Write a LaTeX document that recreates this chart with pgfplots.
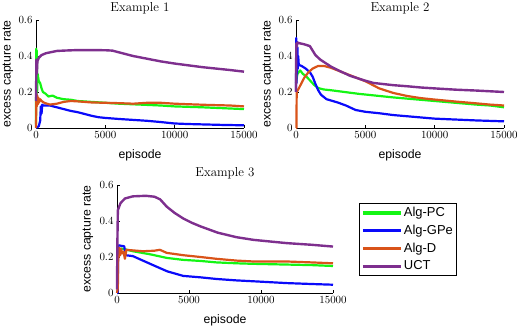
\documentclass[border=0pt]{standalone}
\usepackage{fontspec}
\usepackage{pgfplots}
\pgfplotsset{compat=1.18}
\newfontfamily\arialf{Liberation Sans}
\definecolor{cpc}{RGB}{20,245,20}
\definecolor{cgpe}{RGB}{10,10,250}
\definecolor{cd}{RGB}{217,83,25}
\definecolor{cuct}{RGB}{126,47,142}

\pgfplotsset{
  excap/.style={
    anchor=south west, scale only axis,
    width=208bp, height=108bp,
    xmin=0, xmax=15000, ymin=0, ymax=0.6,
    axis x line=bottom, axis y line=left,
    axis line style={-, black, line width=0.6bp},
    tick align=inside, major tick length=2.5bp,
    tick style={black, line width=0.5bp},
    xtick={0,5000,10000,15000}, ytick={0,0.2,0.4,0.6},
    scaled x ticks=false,
    /pgf/number format/1000 sep={},
    tick label style={font=\fontsize{10.5}{12}\selectfont},
    xlabel={episode}, ylabel={excess capture rate},
    label style={font=\arialf\fontsize{12.3}{14}\selectfont},
    xlabel style={at={(axis description cs:0.5,-0.25)}, anchor=center},
    ylabel style={at={(axis description cs:-0.135,0.5)}, anchor=center, rotate=0},
    every axis title shift=0pt,
    title style={font=\fontsize{13}{15}\selectfont, at={(axis description cs:0.5,1.11)}, anchor=center},
    clip=false,
  },
  pc/.style={color=cpc, line width=2.2bp, line join=round},
  gpe/.style={color=cgpe, line width=2.2bp, line join=round},
  algd/.style={color=cd, line width=2.2bp, line join=round},
  uct/.style={color=cuct, line width=2.4bp, line join=round},
}

\begin{document}
\begin{tikzpicture}
\useasboundingbox (0,0) rectangle (530bp,330bp);

% Example 1
\begin{axis}[excap, at={(36bp,202bp)}, title={Example 1}]
\addplot[pc] coordinates {(0,0.02) (20,0.44) (40,0.15) (60,0.43) (80,0.2) (120,0.3) (200,0.26) (300,0.25) (400,0.22) (500,0.2) (700,0.19) (900,0.175) (1200,0.18) (1500,0.168) (2000,0.16) (2500,0.157) (3000,0.15) (4000,0.145) (5000,0.14) (6000,0.135) (7500,0.13) (9000,0.125) (10000,0.12) (12000,0.115) (13500,0.11) (15000,0.105)};
\addplot[gpe] coordinates {(0,0) (200,0.01) (300,0.04) (350,0.12) (400,0.08) (450,0.13) (500,0.125) (1000,0.125) (1500,0.115) (2000,0.105) (2500,0.095) (3000,0.088) (3500,0.078) (4000,0.068) (4500,0.06) (5000,0.056) (6000,0.05) (7000,0.045) (8000,0.04) (9000,0.033) (10000,0.025) (11000,0.022) (12000,0.02) (13500,0.017) (15000,0.015)};
\addplot[algd] coordinates {(0,0) (30,0.19) (60,0.12) (90,0.18) (120,0.13) (160,0.17) (200,0.14) (300,0.16) (400,0.15) (600,0.14) (1000,0.13) (1500,0.135) (2000,0.145) (2500,0.15) (3000,0.148) (4000,0.142) (5000,0.14) (6000,0.138) (7000,0.135) (8000,0.14) (9000,0.14) (10000,0.135) (11000,0.132) (12500,0.128) (14000,0.125) (15000,0.12)};
\addplot[uct] coordinates {(0,0.15) (30,0.38) (60,0.3) (100,0.37) (200,0.39) (400,0.405) (700,0.415) (1000,0.42) (1500,0.428) (2000,0.43) (3000,0.433) (4000,0.433) (5000,0.432) (5500,0.43) (6000,0.42) (7000,0.4) (8000,0.385) (9000,0.37) (10000,0.358) (11000,0.348) (12000,0.338) (13000,0.33) (14000,0.322) (15000,0.313)};
\end{axis}

% Example 2
\begin{axis}[excap, at={(296bp,202bp)}, title={Example 2}]
\addplot[pc] coordinates {(0,0.25) (100,0.3) (300,0.32) (500,0.3) (700,0.29) (1000,0.265) (1300,0.24) (1600,0.222) (2000,0.214) (2500,0.21) (3000,0.205) (3500,0.2) (4500,0.19) (5500,0.182) (7000,0.17) (8500,0.16) (10000,0.15) (11500,0.14) (13000,0.13) (14000,0.125) (15000,0.115)};
\addplot[gpe] coordinates {(0,0.2) (20,0.5) (40,0.25) (60,0.48) (80,0.3) (100,0.45) (130,0.33) (160,0.4) (200,0.35) (400,0.345) (700,0.33) (1000,0.31) (1200,0.285) (1400,0.245) (1600,0.21) (1800,0.185) (2200,0.16) (3000,0.142) (3600,0.125) (4300,0.1) (5000,0.09) (6000,0.082) (7000,0.072) (8500,0.062) (10000,0.052) (11500,0.047) (13000,0.042) (15000,0.037)};
\addplot[algd] coordinates {(0,0) (30,0.0) (50,0.2) (200,0.22) (400,0.25) (600,0.28) (900,0.31) (1200,0.33) (1600,0.345) (2000,0.345) (2500,0.335) (3000,0.32) (3500,0.305) (4000,0.29) (4500,0.275) (5000,0.26) (5500,0.24) (6000,0.22) (7000,0.195) (8000,0.178) (9000,0.166) (10000,0.158) (11500,0.147) (13000,0.137) (14000,0.13) (15000,0.125)};
\addplot[uct] coordinates {(0,0.2) (20,0.47) (50,0.45) (100,0.475) (300,0.47) (600,0.465) (1000,0.455) (1200,0.43) (1400,0.405) (1750,0.38) (2500,0.342) (3200,0.315) (3900,0.29) (4900,0.265) (5600,0.25) (7000,0.238) (8000,0.232) (9000,0.225) (10000,0.22) (11500,0.213) (13000,0.208) (15000,0.2)};
\end{axis}

% Example 3
\begin{axis}[excap, at={(117bp,37bp)}, width=216bp, title={Example 3},
  legend style={at={(axis description cs:1.12,0.833)}, anchor=north west,
    draw=black, line width=0.6bp, inner xsep=2bp, inner ysep=3bp,
    font=\arialf\fontsize{13}{15}\selectfont, row sep=4.5bp,
    nodes={inner xsep=1.5bp, inner ysep=1.2bp}},
  legend cell align=left,
  legend image code/.code={\draw[#1, line width=3.2bp] (0bp,0bp) -- (38bp,0bp);}]
\addplot[pc] coordinates {(100,0.24) (300,0.247) (700,0.24) (1100,0.232) (1600,0.225) (2300,0.215) (3450,0.195) (4600,0.184) (5800,0.178) (6900,0.17) (8300,0.165) (9500,0.162) (11800,0.158) (13500,0.155) (15000,0.15)};
\addplot[gpe] coordinates {(0,0) (50,0.0) (80,0.26) (150,0.265) (300,0.262) (500,0.26) (600,0.21) (1100,0.205) (1800,0.18) (2500,0.155) (3500,0.12) (4600,0.095) (5800,0.087) (6900,0.078) (8300,0.07) (9500,0.065) (11800,0.055) (13500,0.05) (15000,0.046)};
\addplot[algd] coordinates {(0,0) (60,0.03) (90,0.25) (130,0.2) (170,0.25) (220,0.21) (280,0.245) (350,0.22) (450,0.23) (550,0.19) (650,0.24) (900,0.238) (1800,0.232) (2600,0.235) (2980,0.24) (3450,0.223) (4600,0.21) (5800,0.2) (6900,0.19) (8300,0.18) (9500,0.175) (11800,0.175) (13500,0.17) (15000,0.165)};
\addplot[uct] coordinates {(0,0.02) (30,0.3) (60,0.46) (150,0.48) (250,0.5) (550,0.525) (1100,0.537) (2000,0.54) (2600,0.535) (3000,0.52) (3450,0.48) (4000,0.445) (4600,0.414) (5200,0.39) (5800,0.37) (7000,0.335) (8300,0.31) (9500,0.295) (11800,0.277) (13500,0.268) (15000,0.258)};
\legend{Alg-PC,Alg-GPe,Alg-D,UCT}
\end{axis}
\end{tikzpicture}
\end{document}
